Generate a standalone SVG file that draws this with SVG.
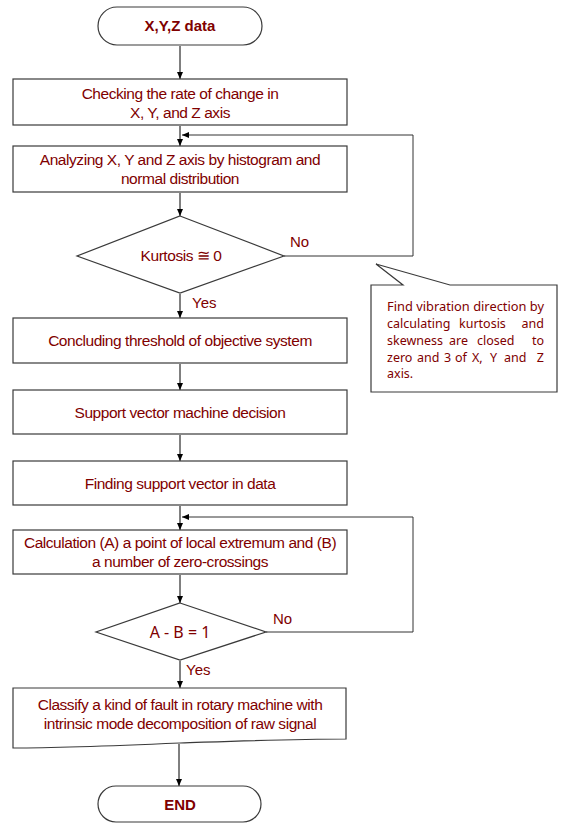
<svg xmlns="http://www.w3.org/2000/svg" width="562" height="824" viewBox="0 0 562 824">
<defs>
<marker id="ah" markerWidth="8" markerHeight="8" refX="7" refY="4" orient="auto" markerUnits="userSpaceOnUse">
<path d="M0,1 L7,4 L0,7 Z" fill="#000"/>
</marker>
<style>
.box{fill:#fff;stroke:#3a3a3a;stroke-width:1.2}
.t{font-family:"Liberation Sans",Arial,sans-serif;font-size:15.5px;fill:#800000;text-anchor:middle;letter-spacing:-0.45px}
.tb{font-family:"Liberation Sans",Arial,sans-serif;font-size:15px;font-weight:bold;fill:#800000;text-anchor:middle}
.lbl{font-family:"Liberation Sans",Arial,sans-serif;font-size:15px;fill:#800000}
.c{font-family:"Noto Sans","Open Sans",sans-serif;font-size:12.5px;fill:#800000}
.e{text-anchor:end}
.cn{fill:none;stroke:#000;stroke-width:1}
.cg{fill:none;stroke:#333;stroke-width:1}
</style>
</defs>
<rect width="562" height="824" fill="#fff"/>

<g id="connectors">
<line class="cn" x1="180" y1="46" x2="180" y2="79" marker-end="url(#ah)"/>
<line class="cn" x1="180" y1="126" x2="180" y2="146" marker-end="url(#ah)"/>
<polyline class="cg" points="284,256 413,256 413,135 182,135" marker-end="url(#ah)"/>
<line class="cn" x1="180" y1="193" x2="180" y2="216" marker-end="url(#ah)"/>
<line class="cn" x1="180" y1="294" x2="180" y2="318" marker-end="url(#ah)"/>
<line class="cn" x1="180" y1="364" x2="180" y2="390" marker-end="url(#ah)"/>
<line class="cn" x1="180" y1="435" x2="180" y2="461" marker-end="url(#ah)"/>
<line class="cn" x1="180" y1="506" x2="180" y2="530" marker-end="url(#ah)"/>
<polyline class="cg" points="266,632 413,632 413,517 182,517" marker-end="url(#ah)"/>
<line class="cn" x1="180" y1="575" x2="180" y2="603" marker-end="url(#ah)"/>
<line class="cn" x1="180" y1="661" x2="180" y2="688" marker-end="url(#ah)"/>
<line class="cn" x1="179" y1="744" x2="179" y2="786" marker-end="url(#ah)"/>
<text class="lbl" x="290" y="247">No</text>
<text class="lbl" x="192" y="308">Yes</text>
<text class="lbl" x="273" y="624">No</text>
<text class="lbl" x="186" y="675">Yes</text>
</g>

<g id="start">
<rect class="box" x="98" y="7" width="164" height="38" rx="19" ry="19"/>
<text class="tb" x="180" y="31">X,Y,Z data</text>
</g>

<g id="check">
<rect class="box" x="13" y="79" width="334" height="46"/>
<text class="t" x="180" y="99">Checking the rate of change in</text>
<text class="t" x="180" y="118">X, Y, and Z axis</text>
</g>

<g id="analyze">
<rect class="box" x="13" y="146" width="334" height="46"/>
<text class="t" x="180" y="165">Analyzing X, Y and Z axis by histogram and</text>
<text class="t" x="180" y="184">normal distribution</text>
</g>

<g id="kurtosis">
<polygon class="box" points="180,216 284,256 180,293 77,256"/>
<text class="t" x="181" y="261">Kurtosis ≅ 0</text>
</g>

<g id="note">
<path class="box" d="M371,285 L403,285 L376,264 L450,285 L557,285 L557,392 L371,392 Z"/>
<text class="c" x="387" y="311" textLength="157" lengthAdjust="spacingAndGlyphs">Find vibration direction by</text>
<text class="c" x="387" y="328">calculating</text>
<text class="c" x="459" y="328">kurtosis</text>
<text class="c e" x="544" y="328">and</text>
<text class="c" x="387" y="345">skewness</text>
<text class="c" x="449" y="345">are</text>
<text class="c" x="477" y="345">closed</text>
<text class="c e" x="544" y="345">to</text>
<text class="c" x="387" y="362">zero</text>
<text class="c" x="417" y="362">and</text>
<text class="c" x="444" y="362">3</text>
<text class="c" x="455" y="362">of</text>
<text class="c" x="472" y="362">X,</text>
<text class="c" x="490" y="362">Y</text>
<text class="c" x="504" y="362">and</text>
<text class="c e" x="544" y="362">Z</text>
<text class="c" x="387" y="378">axis.</text>
</g>

<g id="threshold">
<rect class="box" x="13" y="318" width="334" height="45"/>
<text class="t" x="180" y="346">Concluding threshold of objective system</text>
</g>

<g id="svm">
<rect class="box" x="13" y="390" width="334" height="44"/>
<text class="t" x="180" y="418">Support vector machine decision</text>
</g>

<g id="findsv">
<rect class="box" x="13" y="461" width="334" height="44"/>
<text class="t" x="180" y="489">Finding support vector in  data</text>
</g>

<g id="calc">
<rect class="box" x="13" y="530" width="334" height="44"/>
<text class="t" x="180" y="548">Calculation (A) a point of local extremum and (B)</text>
<text class="t" x="180" y="567">a number of zero-crossings</text>
</g>

<g id="ab">
<polygon class="box" points="180,603 266,632 180,660 96,632"/>
<text class="c" x="180" y="638" text-anchor="middle" style="font-size:16px">A - B = 1</text>
</g>

<g id="classify">
<path class="box" d="M13,688 L346,688 L346,739 C290,739 240,741 180,743 C110,746 60,748 13,748 Z"/>
<text class="t" x="180" y="710">Classify a kind of fault in rotary machine with</text>
<text class="t" x="180" y="729">intrinsic mode decomposition of raw signal</text>
</g>

<g id="end">
<rect class="box" x="98" y="786" width="163" height="36" rx="18" ry="18"/>
<text class="tb" x="180" y="810">END</text>
</g>
</svg>
